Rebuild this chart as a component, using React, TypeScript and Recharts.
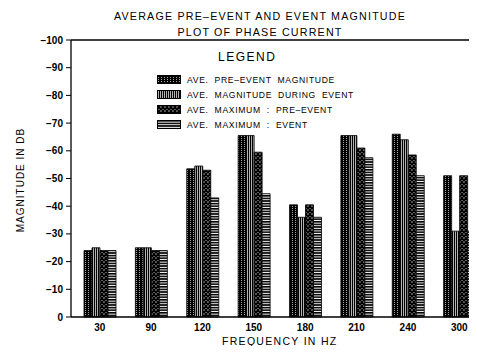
import { BarChart, Bar, XAxis, YAxis, ReferenceLine } from 'recharts';

// frequencies on the x axis
const frequencies = ['30', '90', '120', '150', '180', '210', '240', '300'];

// magnitudes in dB
const preEventMag = [-24, -25, -53.5, -65.5, -40.5, -65.5, -66, -51];
const duringEventMag = [-25, -25, -54.5, -65.5, -36, -65.5, -64, -31];
const maxPreEvent = [-24, -24, -53, -59.5, -40.5, -61, -58.5, -51];
const maxEvent = [-24, -24, -43, -44.5, -36, -57.5, -51, -31];

const yTicks = [-100, -90, -80, -70, -60, -50, -40, -30, -20, -10, 0];

const seriesNames = [
  'AVE.  PRE\u2013EVENT  MAGNITUDE',
  'AVE.  MAGNITUDE  DURING  EVENT',
  'AVE.  MAXIMUM  :  PRE\u2013EVENT',
  'AVE.  MAXIMUM  :  EVENT',
];
const patternIds = ['patPre', 'patDuring', 'patMaxPre', 'patMaxEvent'];

const chartData = frequencies.map((f, i) => ({
  freq: f,
  pre: preEventMag[i],
  during: duringEventMag[i],
  maxPre: maxPreEvent[i],
  maxEvent: maxEvent[i],
}));

const font = '"Liberation Sans", Arial, sans-serif';

function Patterns() {
  return (
    <defs>
      <pattern id="patPre" width="3" height="2" patternUnits="userSpaceOnUse">
        <rect width="3" height="2" fill="#000" />
        <rect x="1" y="0" width="0.8" height="0.8" fill="#fff" />
      </pattern>
      <pattern id="patDuring" width="2" height="2" patternUnits="userSpaceOnUse">
        <rect width="2" height="2" fill="#fff" />
        <rect width="1.3" height="2" fill="#000" />
      </pattern>
      <pattern id="patMaxPre" width="4" height="4" patternUnits="userSpaceOnUse">
        <rect width="4" height="4" fill="#fff" />
        <path d="M0,0 L4,4 M4,0 L0,4" stroke="#000" strokeWidth="1.6" />
      </pattern>
      <pattern id="patMaxEvent" width="2" height="2.6" patternUnits="userSpaceOnUse">
        <rect width="2" height="2.6" fill="#fff" />
        <rect width="2" height="1.6" fill="#000" />
      </pattern>
    </defs>
  );
}

const LegendBox = () => (
  <div style={{ position: 'absolute', top: 50, left: 157, fontFamily: font, color: '#000' }}>
    <div style={{ fontSize: 12, letterSpacing: 1.5, marginLeft: 61, marginBottom: 8, lineHeight: '14px' }}>LEGEND</div>
    {seriesNames.map((name, i) => (
      <div key={name} style={{ display: 'flex', alignItems: 'center', height: 15 }}>
        <svg width={24} height={9} style={{ marginRight: 6 }}>
          <rect x={0.5} y={0.5} width={23} height={8} fill={`url(#${patternIds[i]})`} stroke="#000" />
        </svg>
        <span style={{ fontSize: 8.6, letterSpacing: 0.65, whiteSpace: 'pre' }}>{name}</span>
      </div>
    ))}
  </div>
);

export default function App() {
  return (
    <div style={{ position: 'relative', width: 477, height: 354, overflow: 'hidden', margin: -8, background: '#fff', fontFamily: font }}>
      <BarChart
        width={485}
        height={354}
        data={chartData}
        margin={{ top: 40, right: 0, left: 0, bottom: 7 }}
        barCategoryGap={10}
        barGap={0}
        style={{ position: 'absolute', top: 0, left: 0 }}
      >
        <Patterns />
        <XAxis
          dataKey="freq"
          height={30}
          tickLine={false}
          axisLine={{ stroke: '#000', strokeWidth: 1.3 }}
          padding={{ left: 3, right: 0 }}
          tick={{ fill: '#000', fontSize: 10, fontFamily: font, fontWeight: 'bold' }}
          tickMargin={1}
        />
        <YAxis
          width={71}
          reversed
          domain={[-100, 0]}
          ticks={yTicks}
          interval={0}
          tickSize={5}
          tickMargin={3}
          axisLine={{ stroke: '#000', strokeWidth: 1.3 }}
          tickLine={{ stroke: '#000' }}
          tickFormatter={(v: number) => (v === 0 ? '0' : `\u2212${Math.abs(v)}`)}
          tick={{ fill: '#000', fontSize: 10, fontFamily: font, fontWeight: 'bold' }}
        />
        <ReferenceLine y={-100} stroke="#000" strokeWidth={1.3} />
        <Bar dataKey="pre" name={seriesNames[0]} fill="url(#patPre)" stroke="#000" strokeWidth={0.8} isAnimationActive={false} />
        <Bar dataKey="during" name={seriesNames[1]} fill="url(#patDuring)" stroke="#000" strokeWidth={0.8} isAnimationActive={false} />
        <Bar dataKey="maxPre" name={seriesNames[2]} fill="url(#patMaxPre)" stroke="#000" strokeWidth={0.8} isAnimationActive={false} />
        <Bar dataKey="maxEvent" name={seriesNames[3]} fill="url(#patMaxEvent)" stroke="#000" strokeWidth={0.8} isAnimationActive={false} />
      </BarChart>
      <div style={{ position: 'absolute', top: 8, left: 0, width: 520, textAlign: 'center', fontSize: 10.7, letterSpacing: 1.2, lineHeight: '16px' }}>
        AVERAGE PRE&ndash;EVENT AND EVENT MAGNITUDE
        <br />
        PLOT OF PHASE CURRENT
      </div>
      <div style={{ position: 'absolute', left: 20, top: 180, transform: 'translate(-50%, -50%) rotate(-90deg)', fontSize: 10, letterSpacing: 1, whiteSpace: 'nowrap' }}>
        MAGNITUDE IN DB
      </div>
      <div style={{ position: 'absolute', top: 335, left: 222, fontSize: 10.5, letterSpacing: 1.3, whiteSpace: 'nowrap' }}>
        FREQUENCY IN HZ
      </div>
      <LegendBox />
    </div>
  );
}
